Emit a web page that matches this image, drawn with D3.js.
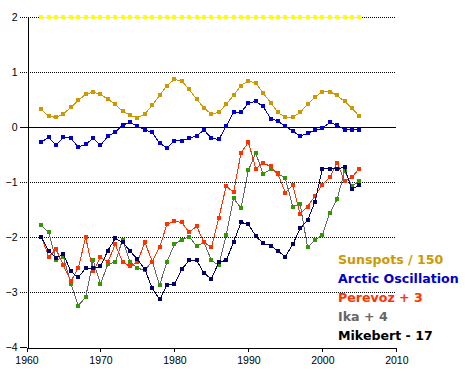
<!DOCTYPE html>
<html>
<head>
<meta charset="utf-8">
<script src="https://cdn.jsdelivr.net/npm/d3@7"></script>
<style>
	body { margin: 0; background: #fff; }
	svg { display: block; }
	.tick text { font-family: "Liberation Sans", Arial, sans-serif; font-size: 10.5px; fill: #000; }
	.legend text { font-family: "DejaVu Sans", sans-serif; font-size: 12.6px; font-weight: bold; }
</style>
</head>
<body>
<div id="chart"></div>
<script>

var years = d3.range(1962, 2006);

var yellowTop = years.map(function () { return 2; });

var sunspots = [0.33,0.2,0.18,0.25,0.36,0.49,0.6,0.64,0.6,0.51,0.42,0.29,0.22,0.17,0.24,0.4,0.58,0.76,0.87,0.84,
	0.69,0.51,0.35,0.24,0.27,0.42,0.58,0.76,0.85,0.8,0.62,0.45,0.27,0.18,0.18,0.27,0.42,0.55,0.65,0.65,
	0.58,0.47,0.35,0.2];

var arcticOsc = [-0.27,-0.18,-0.33,-0.18,-0.2,-0.36,-0.31,-0.2,-0.33,-0.16,-0.09,0.04,0.09,0.02,-0.05,-0.09,-0.29,-0.37,-0.25,-0.24,
	-0.2,-0.15,-0.05,-0.2,-0.22,0.02,0.27,0.27,0.44,0.47,0.38,0.16,0.11,0.02,-0.07,-0.16,-0.11,-0.05,-0.02,0.09,
	0.04,-0.04,-0.04,-0.04];

var perevoz = [-1.99,-2.35,-2.22,-2.51,-2.8,-2.56,-2.0,-2.62,-2.36,-2.45,-2.13,-2.45,-2.53,-2.45,-2.09,-2.44,-2.18,-1.76,-1.71,-1.73,
	-1.91,-1.8,-2.09,-2.18,-1.65,-1.07,-1.18,-0.47,-0.27,-0.75,-0.65,-0.71,-0.85,-1.19,-1.05,-1.58,-1.44,-1.25,-1.04,-0.91,
	-0.64,-0.98,-0.91,-0.75];

var ika = [-1.78,-1.91,-2.42,-2.36,-2.84,-3.24,-3.09,-2.42,-2.85,-2.49,-2.45,-2.04,-2.45,-2.56,-2.6,-2.44,-2.87,-2.44,-2.13,-2.04,
	-1.99,-2.16,-2.09,-2.42,-2.51,-1.96,-1.29,-1.47,-0.78,-0.47,-0.85,-0.76,-0.84,-0.93,-1.44,-1.4,-2.18,-2.05,-1.96,-1.56,
	-1.31,-0.8,-1.07,-0.98];

var mikebert = [-2.0,-2.25,-2.38,-2.31,-2.62,-2.73,-2.56,-2.56,-2.53,-2.24,-2.02,-2.09,-2.25,-2.4,-2.58,-2.93,-3.13,-2.87,-2.85,-2.58,
	-2.42,-2.42,-2.65,-2.76,-2.45,-2.42,-2.09,-1.73,-1.76,-1.98,-2.11,-2.15,-2.25,-2.35,-2.13,-1.84,-1.69,-1.36,-0.75,-0.76,
	-0.75,-0.73,-1.13,-1.05];

var xTicks = [1960, 1970, 1980, 1990, 2000, 2010];
var yTicks = [-4, -3, -2, -1, 0, 1, 2];

var legendLabels = ["Sunspots / 150", "Arctic Oscillation", "Perevoz + 3", "Ika + 4", "Mikebert - 17"];

var chart = {
	container: '#chart',
	width: 469,
	height: 371,
	left: 26.5,
	right: 396.3,
	top: 17.3,
	bottom: 347.3
};

// series drawn back to front
var series = [
	{ values: yellowTop, line: '#ffff00', marker: '#ffff00' },
	{ values: sunspots, line: '#cc9900', marker: '#cc9900' },
	{ values: arcticOsc, line: '#0000cc', marker: '#0000cc' },
	{ values: ika, line: '#666666', marker: '#339900' },
	{ values: perevoz, line: '#ff3300', marker: '#ff3300' },
	{ values: mikebert, line: '#000066', marker: '#000066' }
];

var legendColors = ['#cc9900', '#0000cc', '#ff3300', '#666666', '#000000'];

var svg = d3.select(chart.container)
	.append('svg')
	.attr('width', chart.width)
	.attr('height', chart.height);

var xScale = d3.scaleLinear()
	.domain([1960, 2010])
	.range([chart.left, chart.right]);

var yScale = d3.scaleLinear()
	.domain([-4, 2])
	.range([chart.bottom, chart.top]);

// grid lines (dotted), zero line solid; they poke out left of the axis like ticks
svg.append('g')
	.attr('class', 'grid')
	.selectAll('line')
	.data(yTicks)
	.enter()
	.append('line')
	.attr('x1', chart.left - 7)
	.attr('x2', function (d) { return d === -4 ? chart.left : chart.right; })
	.attr('y1', function (d) { return Math.round(yScale(d)) + 0.5; })
	.attr('y2', function (d) { return Math.round(yScale(d)) + 0.5; })
	.attr('stroke', '#000')
	.attr('stroke-width', 1)
	.attr('stroke-dasharray', function (d) { return (d === 0 || d === -4) ? null : '1,1'; })
	.style('shape-rendering', 'crispEdges');

var yAxis = d3.axisLeft(yScale)
	.tickValues(yTicks)
	.tickSize(0)
	.tickPadding(10)
	.tickFormat(d3.format('d'));

svg.append('g')
	.attr('class', 'y-axis')
	.attr('transform', 'translate(' + (Math.round(chart.left) + 0.5) + ',0)')
	.call(yAxis)
	.call(function (g) {
		g.select('.domain').attr('stroke', '#000').style('shape-rendering', 'crispEdges');
	});

var xAxis = d3.axisBottom(xScale)
	.tickValues(xTicks)
	.tickSizeInner(4)
	.tickSizeOuter(0)
	.tickPadding(5)
	.tickFormat(d3.format('d'));

svg.append('g')
	.attr('class', 'x-axis')
	.attr('transform', 'translate(0,' + (Math.round(chart.bottom) + 0.5) + ')')
	.call(xAxis)
	.call(function (g) {
		g.select('.domain').attr('stroke', '#000').style('shape-rendering', 'crispEdges');
		g.selectAll('.tick line').attr('stroke', '#000').style('shape-rendering', 'crispEdges');
	});

var line = d3.line()
	.x(function (d, i) { return xScale(years[i]); })
	.y(function (d) { return yScale(d); });

var plot = svg.append('g').attr('class', 'plot');

series.forEach(function (s) {
	var g = plot.append('g');

	g.append('path')
		.datum(s.values)
		.attr('fill', 'none')
		.attr('stroke', s.line)
		.attr('stroke-width', 1)
		.style('shape-rendering', 'crispEdges')
		.attr('d', line);

	g.selectAll('rect')
		.data(s.values)
		.enter()
		.append('rect')
		.attr('x', function (d, i) { return Math.round(xScale(years[i])) - 2; })
		.attr('y', function (d) { return Math.round(yScale(d)) - 2; })
		.attr('width', 4)
		.attr('height', 4)
		.attr('fill', s.marker)
		.style('shape-rendering', 'crispEdges');
});

svg.append('g')
	.attr('class', 'legend')
	.selectAll('text')
	.data(legendLabels)
	.enter()
	.append('text')
	.attr('x', 338)
	.attr('y', function (d, i) { return 264 + i * 19; })
	.attr('fill', function (d, i) { return legendColors[i]; })
	.text(function (d) { return d; });

</script>
</body>
</html>
